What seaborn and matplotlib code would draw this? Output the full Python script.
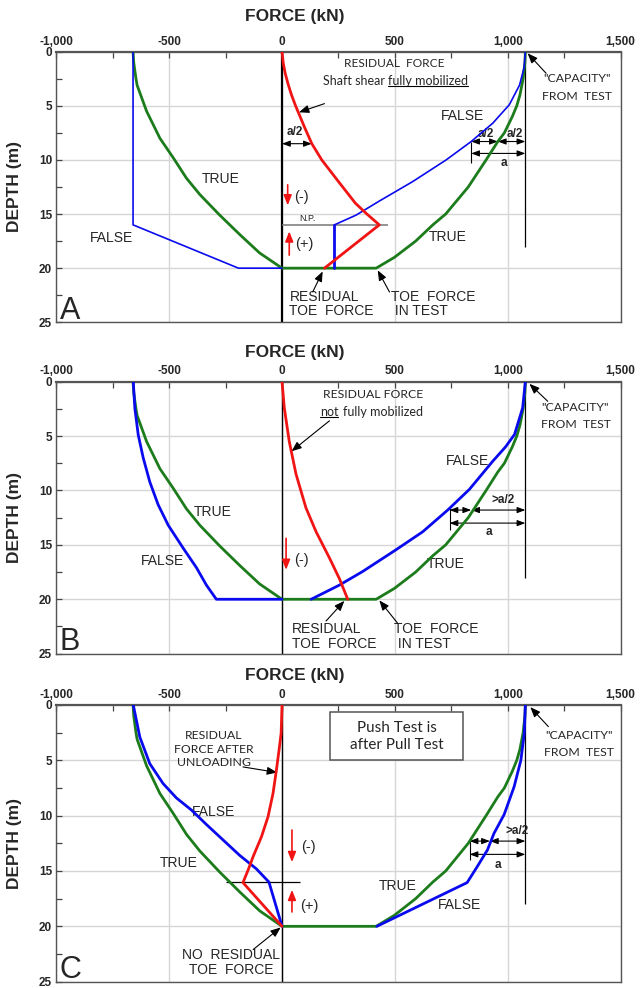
import matplotlib
matplotlib.use("Agg")
import matplotlib.pyplot as plt
import seaborn as sns
from matplotlib.lines import Line2D
from matplotlib.patches import Rectangle
from matplotlib.ticker import MultipleLocator

force_ticks = [-1000, -500, 0, 500, 1000, 1500]
force_labels = ["-1,000", "-500", "0", "500", "1,000", "1,500"]
depth_ticks = [0, 5, 10, 15, 20, 25]
capacity = 1078

# "TRUE" load distribution, same in all panels: pull side, toe, push side
true_force = [-660, -657, -647, -642, -600, -541, -482, -423, -364, -276, -187, -99, 0,
              417, 498, 592, 668, 725, 825, 904, 956, 985, 1020, 1040, 1054, 1068, 1076, 1078]
true_depth = [0, 1, 2.5, 3.1, 5.5, 8, 9.8, 11.7, 13.2, 15.1, 16.9, 18.6, 20,
              20, 19, 17.5, 16, 15, 12.5, 10, 8.3, 7.5, 6, 5, 4, 2.5, 1, 0]

# panel A
a_pull_force = [-660, -660, -193, 0]
a_pull_depth = [0, 16, 20, 20]
a_np_force = [232, 232]
a_np_depth = [20, 16]
a_push_force = [232, 328, 431, 579, 727, 838, 934, 1007, 1052, 1072, 1078]
a_push_depth = [16, 15.1, 13.8, 12, 10, 8.3, 6.6, 4.9, 3.1, 1.5, 0]
a_res_force = [0, 5, 14, 27, 42, 60, 80, 100, 132, 176, 250, 325, 376, 431, 188]
a_res_depth = [0, 1, 2, 3, 4, 5, 6, 7, 8.5, 10, 12, 14, 15, 16, 20]

# panel B
b_pull_force = [-659, -652, -637, -615, -586, -549, -504, -438, -379, -335, -291, 0]
b_pull_depth = [0, 2.45, 4.9, 7.0, 9.2, 11.3, 13.2, 15.3, 17.1, 18.7, 20, 20]
b_push_force = [129, 254, 357, 505, 623, 734, 830, 934, 990, 1030, 1066, 1078]
b_push_depth = [20, 18.7, 17.45, 15.45, 13.8, 11.8, 9.9, 7.3, 6.0, 4.85, 2.4, 0]
b_res_force = [0, 10, 32, 62, 106, 151, 210, 254, 291]
b_res_depth = [0, 2.4, 5.5, 8.5, 11.6, 13.8, 16.2, 18.1, 20]

# panel C
c_pull_force = [-659, -630, -586, -527, -468, -401, -335, -261, -187, -114, -58, 0]
c_pull_depth = [0, 2.9, 5.3, 7.1, 8.4, 9.5, 10.8, 12.2, 13.6, 14.8, 16.0, 20]
c_push_force = [420, 820, 865, 910, 939, 984, 1028, 1058, 1073, 1078]
c_push_depth = [20, 16.05, 14.6, 13.1, 11.6, 9.9, 7.4, 5, 2.6, 0]
c_res_force = [0, -4, -13, -25, -40, -62, -91, -128, -150, -173, 0]
c_res_depth = [0, 2.55, 4.05, 5.9, 8.0, 10.1, 11.9, 13.7, 14.9, 16.05, 20]

GREEN = "#1c7c1c"
BLUE = "#0a0aee"
RED = "#f01414"
NARROW = ["Lato", "DejaVu Sans"]
LBL = 10

sns.set_theme(style="white")
plt.rcParams["font.family"] = ["Liberation Sans", "DejaVu Sans"]


def curve(ax, x, y, color, lw, z):
    sns.lineplot(x=x, y=y, sort=False, estimator=None, color=color, lw=lw, ax=ax, zorder=z)


def arrow(ax, start, end, color="black", lw=0.8):
    ax.annotate("", xy=end, xytext=start,
                arrowprops=dict(arrowstyle="-|>,head_length=0.5,head_width=0.2",
                                color=color, lw=lw, shrinkA=0, shrinkB=0))


def dim(ax, x0, x1, y):
    ax.annotate("", xy=(x1, y), xytext=(x0, y),
                arrowprops=dict(arrowstyle="<|-|>,head_length=0.4,head_width=0.15",
                                color="black", lw=0.8, shrinkA=0, shrinkB=0))


def setup(ax, letter, zero_lw):
    ax.set_xlim(-1000, 1500)
    ax.set_ylim(25, 0)
    ax.xaxis.tick_top()
    ax.set_xticks(force_ticks)
    ax.set_xticklabels(force_labels, fontweight="bold", fontsize=8.5)
    ax.set_yticks(depth_ticks)
    ax.set_yticklabels([str(d) for d in depth_ticks], fontweight="bold", fontsize=8.5)
    ax.xaxis.set_minor_locator(MultipleLocator(250))
    ax.yaxis.set_minor_locator(MultipleLocator(2.5))
    ax.tick_params(which="both", direction="in", top=True, bottom=False, left=True,
                   right=False, length=4, width=0.9, color="#444444")
    ax.tick_params(axis="x", pad=3)
    ax.tick_params(axis="y", pad=3)
    ax.grid(True, which="major", color="#d6d6d6", lw=1)
    ax.set_axisbelow(True)
    for side, sp in ax.spines.items():
        sp.set_color("#555555")
        sp.set_linewidth(1.6 if side == "top" else 1.0)
    ax.set_xlabel("")
    ax.set_ylabel("DEPTH (m)", fontweight="bold", fontsize=12.5)
    ax.yaxis.set_label_coords(-0.061, 0.5)
    ax.axvline(0, color="black", lw=zero_lw, zorder=2)
    ax.vlines(capacity, 0, 18, color="black", lw=0.9, zorder=2)
    ax.text(-985, 24.7, letter, fontsize=22, ha="left", va="baseline")


fig = plt.figure(figsize=(6.42, 9.88), dpi=100)
axA = fig.add_axes([0.0877, 0.6738, 0.879, 0.2739])
axB = fig.add_axes([0.0877, 0.3384, 0.879, 0.2753])
axC = fig.add_axes([0.0877, 0.0064, 0.879, 0.2801])
for y in [0.9838, 0.6437, 0.3158]:
    fig.text(0.4595, y, "FORCE (kN)", fontsize=12.5, fontweight="bold", ha="center", va="center")

underlined = []

# ---------------- panel A ----------------
ax = axA
curve(ax, true_force, true_depth, GREEN, 2.0, 4)
curve(ax, a_pull_force, a_pull_depth, BLUE, 1.2, 5)
curve(ax, a_np_force, a_np_depth, BLUE, 2.0, 5)
curve(ax, a_push_force, a_push_depth, BLUE, 1.2, 5)
curve(ax, a_res_force, a_res_depth, RED, 2.0, 6)
setup(ax, "A", 1.6)
ax.hlines(16, 0, 468, color="#777777", lw=1.1, zorder=3)
ax.text(114, 15.45, "N.P.", fontsize=6.5, ha="center", va="center")
ax.text(498, 1.1, "RESIDUAL  FORCE", family=NARROW, fontsize=8.6, ha="center", va="center")
ax.text(455, 2.7, "Shaft shear", family=NARROW, fontsize=9, ha="right", va="center")
underlined.append(ax.text(470, 2.7, "fully mobilized", family=NARROW, fontsize=9,
                          ha="left", va="center"))
arrow(ax, (188, 4.8), (75, 5.6))
ax.text(1306, 2.5, '"CAPACITY"', family=NARROW, fontsize=8.8, ha="center", va="center")
ax.text(1306, 4.1, "FROM  TEST", family=NARROW, fontsize=8.8, ha="center", va="center")
arrow(ax, (1170, 2.0), (1088, 0.15))
ax.text(800, 5.9, "FALSE", fontsize=LBL, ha="center", va="center")
ax.text(734, 17.1, "TRUE", fontsize=LBL, ha="center", va="center")
ax.text(-272, 11.8, "TRUE", fontsize=LBL, ha="center", va="center")
ax.text(-757, 17.2, "FALSE", fontsize=LBL, ha="center", va="center")
ax.text(33, 23.3, "RESIDUAL\nTOE  FORCE", fontsize=LBL, ha="left", va="center", linespacing=1.05)
arrow(ax, (136, 22.2), (180, 20.3))
ax.text(483, 23.3, "TOE  FORCE\n IN TEST", fontsize=LBL, ha="left", va="center", linespacing=1.05)
arrow(ax, (476, 22.2), (424, 20.2))
dim(ax, 0, 132, 8.5)
ax.text(55, 7.4, "a/2", fontsize=8.5, fontweight="bold", ha="center", va="center")
dim(ax, 838, 956, 8.3)
dim(ax, 956, 1078, 8.3)
dim(ax, 838, 1078, 9.4)
ax.vlines(838, 8.3, 10.3, color="black", lw=0.8)
ax.text(903, 7.6, "a/2", fontsize=8.5, fontweight="bold", ha="center", va="center")
ax.text(1030, 7.6, "a/2", fontsize=8.5, fontweight="bold", ha="center", va="center")
ax.text(981, 10.3, "a", fontsize=8.5, fontweight="bold", ha="center", va="center")
arrow(ax, (25, 12.3), (25, 14.2), RED, 1.2)
ax.text(84, 13.4, "(-)", fontsize=10.5, ha="center", va="center")
arrow(ax, (32, 18.8), (32, 16.6), RED, 1.2)
ax.text(99, 17.8, "(+)", fontsize=10.5, ha="center", va="center")

# ---------------- panel B ----------------
ax = axB
curve(ax, true_force, true_depth, GREEN, 2.0, 4)
curve(ax, b_pull_force, b_pull_depth, BLUE, 2.0, 5)
curve(ax, b_push_force, b_push_depth, BLUE, 2.0, 5)
curve(ax, b_res_force, b_res_depth, RED, 2.0, 6)
setup(ax, "B", 1.0)
ax.text(402, 1.2, "RESIDUAL FORCE", family=NARROW, fontsize=8.8, ha="center", va="center")
underlined.append(ax.text(250, 2.8, "not", family=NARROW, fontsize=9, ha="right", va="center"))
ax.text(272, 2.8, "fully mobilized", family=NARROW, fontsize=9, ha="left", va="center")
arrow(ax, (210, 3.6), (42, 6.4))
ax.text(1300, 2.4, '"CAPACITY"', family=NARROW, fontsize=8.8, ha="center", va="center")
ax.text(1300, 3.9, "FROM  TEST", family=NARROW, fontsize=8.8, ha="center", va="center")
arrow(ax, (1177, 1.8), (1096, 0.2))
ax.text(823, 7.3, "FALSE", fontsize=LBL, ha="center", va="center")
ax.text(727, 16.8, "TRUE", fontsize=LBL, ha="center", va="center")
ax.text(-308, 12.0, "TRUE", fontsize=LBL, ha="center", va="center")
ax.text(-530, 16.5, "FALSE", fontsize=LBL, ha="center", va="center")
ax.text(44, 23.4, "RESIDUAL\nTOE  FORCE", fontsize=LBL, ha="left", va="center", linespacing=1.05)
arrow(ax, (195, 22.0), (276, 20.15))
ax.text(498, 23.4, "TOE  FORCE\n IN TEST", fontsize=LBL, ha="left", va="center", linespacing=1.05)
arrow(ax, (512, 22.2), (431, 20.1))
dim(ax, 742, 838, 11.8)
dim(ax, 838, 1078, 11.8)
dim(ax, 742, 1078, 13.0)
ax.vlines(742, 11.6, 13.6, color="black", lw=0.8)
ax.text(978, 10.9, ">a/2", fontsize=8.5, fontweight="bold", ha="center", va="center")
ax.text(916, 13.8, "a", fontsize=8.5, fontweight="bold", ha="center", va="center")
arrow(ax, (18, 14.4), (18, 17.3), RED, 1.2)
ax.text(84, 16.4, "(-)", fontsize=10.5, ha="center", va="center")

# ---------------- panel C ----------------
ax = axC
curve(ax, true_force, true_depth, GREEN, 2.0, 4)
curve(ax, c_pull_force, c_pull_depth, BLUE, 2.0, 5)
curve(ax, c_push_force, c_push_depth, BLUE, 2.0, 5)
curve(ax, c_res_force, c_res_depth, RED, 2.0, 6)
setup(ax, "C", 1.0)
ax.hlines(16, -250, 80, color="black", lw=0.9, zorder=3)
ax.add_patch(Rectangle((214, 0.6), 586, 4.4, fc="white", ec="#555555", lw=1.1, zorder=3))
ax.text(507, 2.85, "Push Test is\nafter Pull Test", family=NARROW, fontsize=11, ha="center",
        va="center", linespacing=1.25, zorder=4)
ax.text(1316, 2.8, '"CAPACITY"', family=NARROW, fontsize=8.8, ha="center", va="center")
ax.text(1316, 4.3, "FROM  TEST", family=NARROW, fontsize=8.8, ha="center", va="center")
arrow(ax, (1180, 1.96), (1100, 0.2))
ax.text(-302, 4.0, "RESIDUAL\nFORCE AFTER\nUNLOADING", family=NARROW, fontsize=8.8,
        ha="center", va="center", linespacing=1.3)
arrow(ax, (-173, 5.6), (-22, 6.1))
ax.text(-305, 9.7, "FALSE", fontsize=LBL, ha="center", va="center")
ax.text(-456, 14.3, "TRUE", fontsize=LBL, ha="center", va="center")
ax.text(512, 16.35, "TRUE", fontsize=LBL, ha="center", va="center")
ax.text(785, 18.1, "FALSE", fontsize=LBL, ha="center", va="center")
ax.text(-224, 23.25, "NO  RESIDUAL\nTOE  FORCE", fontsize=LBL, ha="center", va="center",
        linespacing=1.05)
arrow(ax, (-128, 22.1), (-6, 20.1))
dim(ax, 831, 921, 12.3)
dim(ax, 921, 1078, 12.3)
dim(ax, 831, 1078, 13.5)
ax.vlines(831, 12.0, 14.0, color="black", lw=0.8)
ax.text(1040, 11.4, ">a/2", fontsize=8.5, fontweight="bold", ha="center", va="center")
ax.text(955, 14.5, "a", fontsize=8.5, fontweight="bold", ha="center", va="center")
arrow(ax, (44, 11.3), (44, 14.2), RED, 1.2)
ax.text(119, 12.8, "(-)", fontsize=10.5, ha="center", va="center")
arrow(ax, (44, 18.7), (44, 16.7), RED, 1.2)
ax.text(119, 18.2, "(+)", fontsize=10.5, ha="center", va="center")

# underline selected words from their rendered extent
fig.canvas.draw()
renderer = fig.canvas.get_renderer()
inv = fig.transFigure.inverted()
for t in underlined:
    bb = t.get_window_extent(renderer)
    (x0, y0), (x1, _) = inv.transform([(bb.x0, bb.y0 + 1), (bb.x1, bb.y0 + 1)])
    fig.add_artist(Line2D([x0, x1], [y0, y0], transform=fig.transFigure, color="black", lw=0.8))

fig.savefig("out.png", dpi=100)
